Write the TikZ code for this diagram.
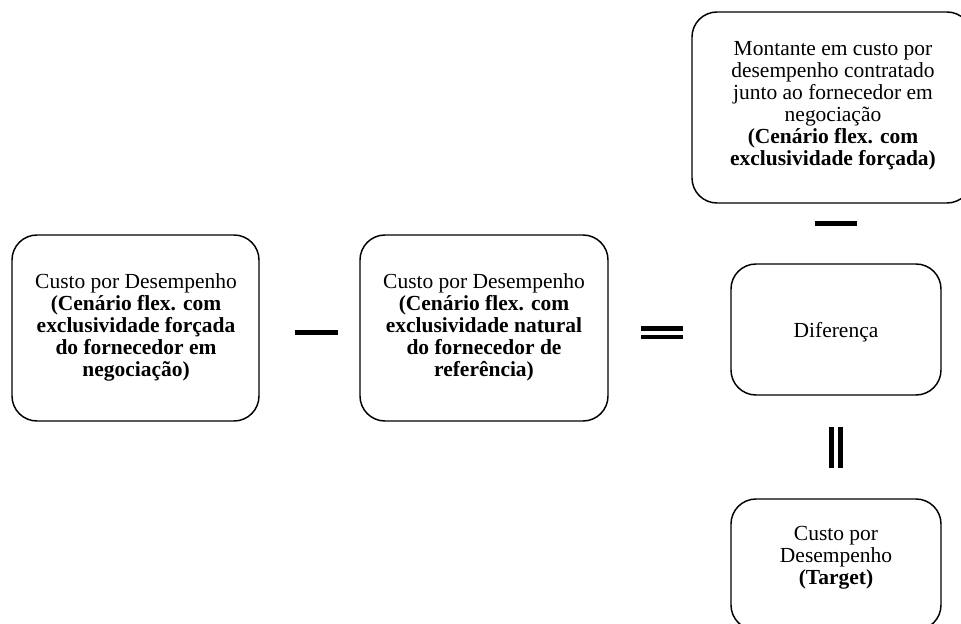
\documentclass[tikz,border=0pt]{standalone}
\usepackage{fontspec}
\setmainfont{Liberation Serif}

\tikzset{every picture/.style={line width=0.75pt}}
\tikzset{
  caixa/.style={rounded corners=18.75pt, line width=1.1pt},
  texto/.style={align=center, inner sep=0pt, font=\fontsize{16.1pt}{16.5pt}\selectfont},
  sinal/.style={fill=black, draw=none}
}

\begin{document}
\begin{tikzpicture}[x=0.75pt,y=0.75pt,yscale=-1,xscale=1]
%set diagram left start at 0, and has height of 624
\useasboundingbox (0,0) rectangle (961,624);
\clip (0,0) rectangle (961,624);

%Shape: Rounded Rect
\draw [caixa] (12,235) rectangle (259,421) ;
%Shape: Rounded Rect
\draw [caixa] (360,235) rectangle (608,421) ;
%Shape: Rounded Rect
\draw [caixa] (692,12) rectangle (972,203) ;
%Shape: Rounded Rect
\draw [caixa] (731,264) rectangle (941,395) ;
%Shape: Rounded Rect
\draw [caixa] (731,499) rectangle (941,630) ;

%Shape: Minus
\fill [sinal] (295,330) rectangle (338,335) ;
%Shape: Equals
\fill [sinal] (641,326) rectangle (683,330.5) ;
\fill [sinal] (641,334.5) rectangle (683,339) ;
%Shape: Minus
\fill [sinal] (815,221.5) rectangle (857,226) ;
%Shape: Parallel
\fill [sinal] (829,427) rectangle (834,468) ;
\fill [sinal] (838,427) rectangle (843,468) ;

% Text Node
\node [texto] (custoforcado) at (136,327) {Custo por Desempenho\\\textbf{(Cenário flex. com}\\\textbf{exclusividade forçada}\\\textbf{do fornecedor em}\\\textbf{negociação)}};
% Text Node
\node [texto] (custonatural) at (484,327) {Custo por Desempenho\\\textbf{(Cenário flex. com}\\\textbf{exclusividade natural}\\\textbf{do fornecedor de}\\\textbf{referência)}};
% Text Node
\node [texto] (montante) at (833,106) {Montante em custo por\\desempenho contratado\\junto ao fornecedor em\\negociação\\\textbf{(Cenário flex. com}\\\textbf{exclusividade forçada)}};
% Text Node
\node [texto] (diferenca) at (836,332) {Diferença};
% Text Node
\node [texto] (target) at (836,558) {Custo por\\Desempenho\\\textbf{(Target)}};

\end{tikzpicture}
\end{document}
